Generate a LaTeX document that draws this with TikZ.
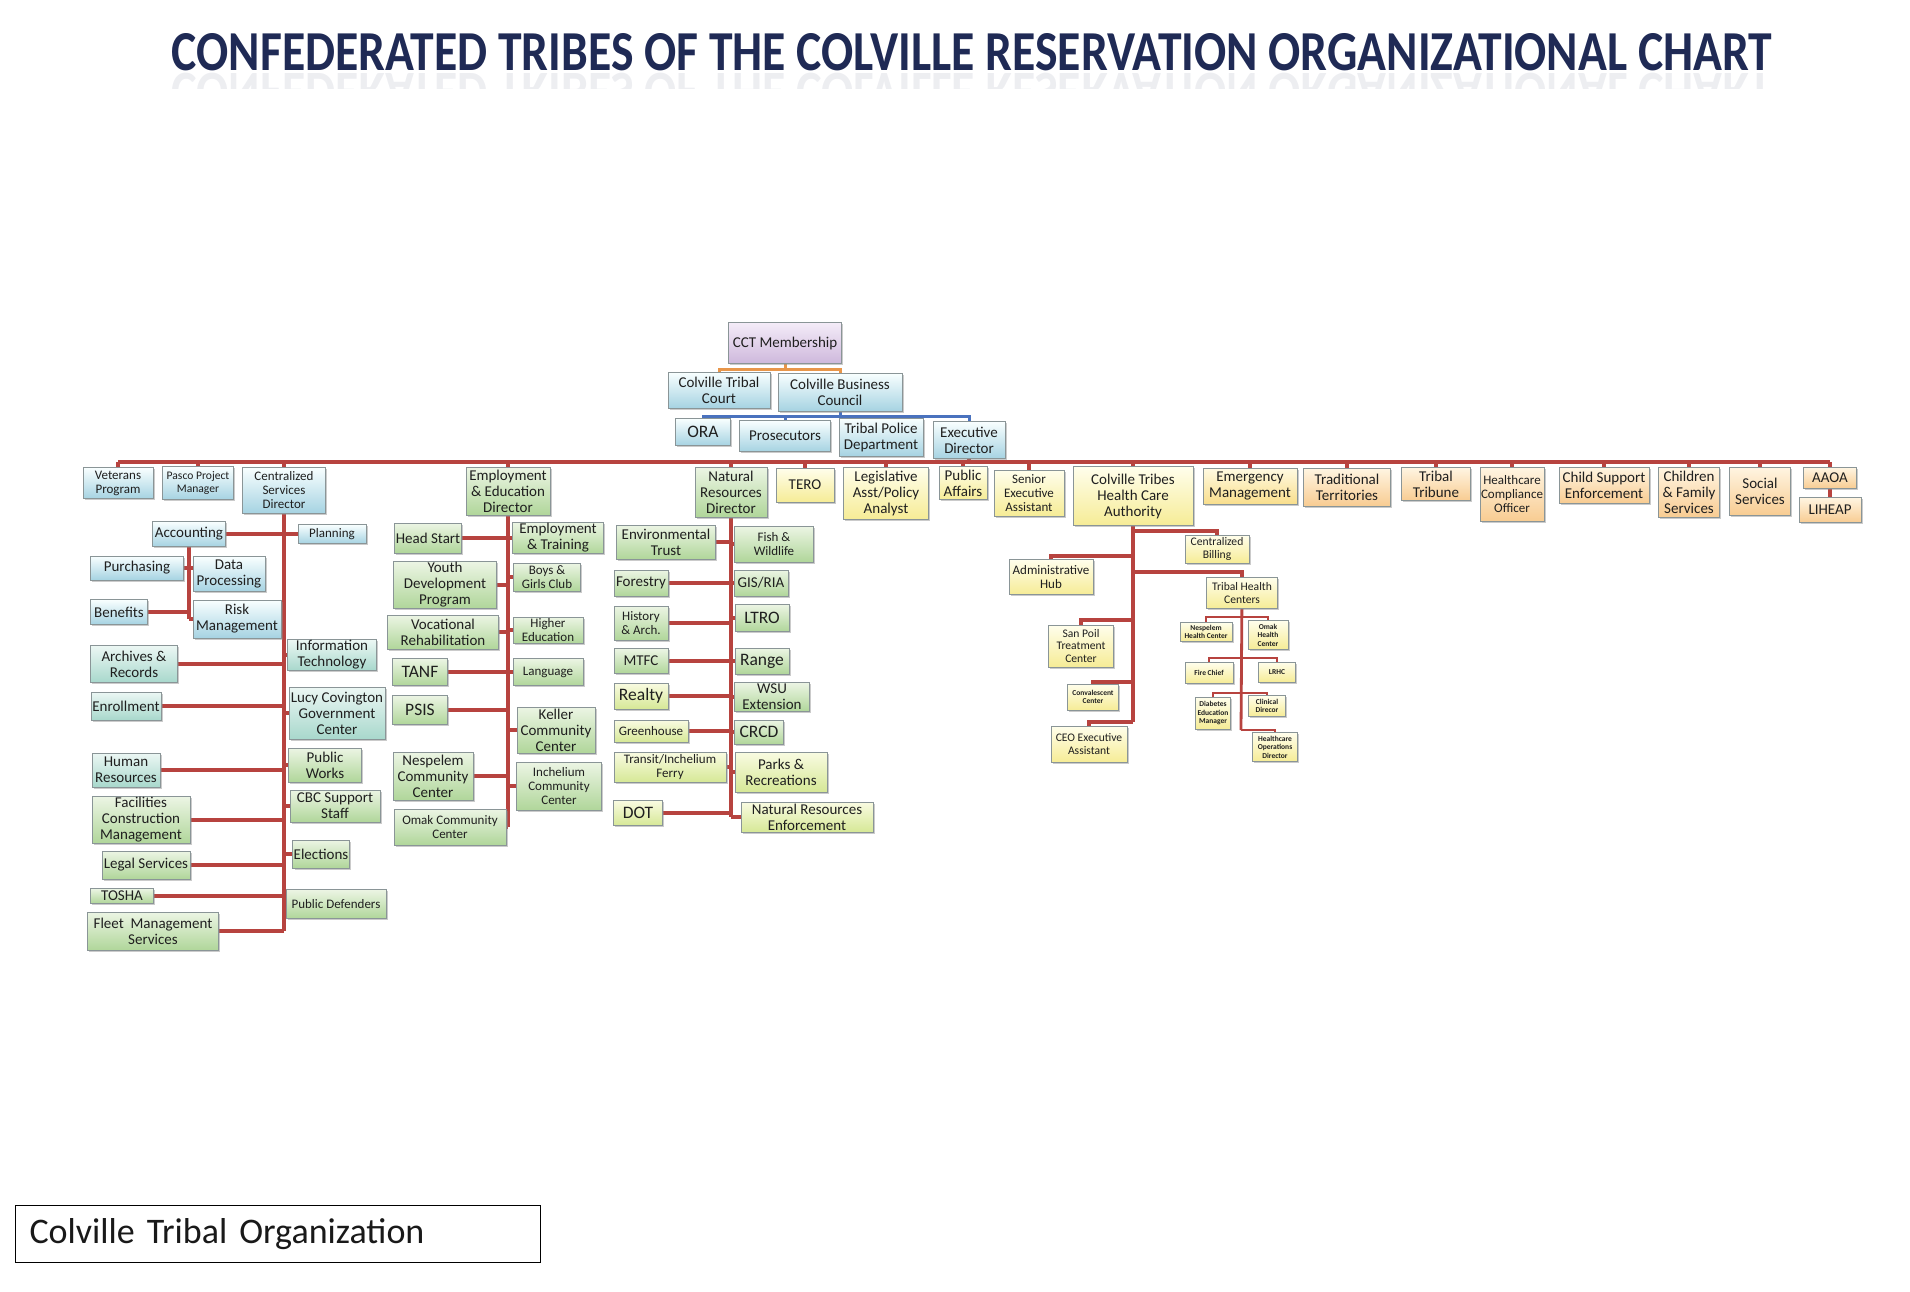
\documentclass[tikz,border=0pt]{standalone}
\usepackage{fontspec}
\usepackage{graphicx}
\setmainfont{Carlito}
\usetikzlibrary{shadows,backgrounds}
\definecolor{titleNavy}{HTML}{1F2A55}
\definecolor{redline}{HTML}{B7433F}
\definecolor{blueline}{HTML}{4A72BE}
\definecolor{orangeline}{HTML}{E8964A}
\definecolor{boxgray}{HTML}{8A9597}
\begin{document}
\begin{tikzpicture}[x=1pt,y=-1pt,
  bx/.style={draw=boxgray, line width=0.8pt, align=center, inner sep=1pt, text=black!88,
     drop shadow={shadow xshift=1.8pt, shadow yshift=-1.8pt, fill=black!45, opacity=0.45}},
  wh/.style 2 args={minimum width=#1pt, minimum height=#2pt},
  cBlue/.style={bx, top color=white!70!cyan!8, bottom color={rgb,255:red,166;green,211;blue,226}},
  cTeal/.style={bx, top color={rgb,255:red,236;green,247;blue,244}, bottom color={rgb,255:red,168;green,216;blue,204}},
  cGreen/.style={bx, top color={rgb,255:red,236;green,245;blue,228}, bottom color={rgb,255:red,176;green,214;blue,154}},
  cYG/.style={bx, top color={rgb,255:red,249;green,251;blue,226}, bottom color={rgb,255:red,214;green,232;blue,150}},
  cYel/.style={bx, top color={rgb,255:red,255;green,254;blue,236}, bottom color={rgb,255:red,246;green,236;blue,150}},
  cYO/.style={bx, top color={rgb,255:red,255;green,250;blue,226}, bottom color={rgb,255:red,249;green,222;blue,140}},
  cOr/.style={bx, top color={rgb,255:red,255;green,245;blue,226}, bottom color={rgb,255:red,248;green,204;blue,146}},
  cPur/.style={bx, top color={rgb,255:red,244;green,236;blue,248}, bottom color={rgb,255:red,206;green,184;blue,220}},
  fa/.style={font=\fontsize{15}{16}\selectfont},
  fb/.style={font=\fontsize{13}{14}\selectfont},
  fc/.style={font=\fontsize{11.6}{12.6}\selectfont},
  fd/.style={font=\fontsize{7.5}{8.4}\selectfont\bfseries},
  fe/.style={font=\fontsize{17.5}{18.5}\selectfont},
  lnR/.style={draw=redline, line width=3.4pt},
  lnS/.style={draw=redline, line width=2.8pt},
  lnB/.style={draw=blueline, line width=3pt},
  lnO/.style={draw=orangeline, line width=3pt}
]
\useasboundingbox (0,0) rectangle (1910,1292);

% Title
\node[anchor=base, inner sep=0, text=titleNavy] (title) at (972,71)
  {\resizebox{1600pt}{37pt}{\bfseries CONFEDERATED TRIBES OF THE COLVILLE RESERVATION ORGANIZATIONAL CHART}};
\begin{scope}
  \clip (150,73) rectangle (1800,89);
  \node[anchor=north, inner sep=0, text=titleNavy, opacity=0.08] (titlerefl) at (972,73)
    {\scalebox{1}[-1]{\resizebox{1600pt}{37pt}{\bfseries CONFEDERATED TRIBES OF THE COLVILLE RESERVATION ORGANIZATIONAL CHART}}};
\end{scope}

% Top
\node[cPur, fa, wh={113}{41}] (cct) at (785,343) {CCT Membership};
\node[cBlue, fa, wh={102}{36}] (ctc) at (719,390) {Colville Tribal\\Court};
\node[cBlue, fa, wh={124}{38}] (cbc) at (840,392) {Colville Business\\Council};
\node[cBlue, fe, wh={55}{27}] (ora) at (703,432) {ORA};
\node[cBlue, fa, wh={91}{31}] (pros) at (785,436) {Prosecutors};
\node[cBlue, fa, wh={84}{38}] (tpd) at (881,437) {Tribal Police\\Department};
\node[cBlue, fa, wh={72}{37}] (exec) at (969,440) {Executive\\Director};

% Row under the bus
\node[cBlue, fb, wh={70}{31}] (vet) at (118,483) {Veterans\\Program};
\node[cBlue, fc, wh={71}{33}] (pasco) at (198,483) {Pasco Project\\Manager};
\node[cBlue, fb, wh={83}{46}] (csd) at (284,490) {Centralized\\Services\\Director};
\node[cGreen, fa, wh={84}{48}] (eed) at (508,491) {Employment\\\& Education\\Director};
\node[cGreen, fa, wh={72}{50}] (nrd) at (731,492) {Natural\\Resources\\Director};
\node[cYel, fa, wh={58}{34}] (tero) at (805,485) {TERO};
\node[cYel, fa, wh={85}{52}] (leg) at (886,493) {Legislative\\Asst/Policy\\Analyst};
\node[cYel, fa, wh={48}{33}] (pa) at (963,483) {Public\\Affairs};
\node[cYel, fb, wh={70}{46}] (sea) at (1029,493) {Senior\\Executive\\Assistant};
\node[cYel, fa, wh={120}{59}] (cthca) at (1133,496) {Colville Tribes\\Health Care\\Authority};
\node[cYO, fa, wh={94}{36}] (em) at (1250,486) {Emergency\\Management};
\node[cOr, fa, wh={87}{38}] (tt) at (1347,487) {Traditional\\Territories};
\node[cOr, fa, wh={69}{33}] (trib) at (1436,484) {Tribal\\Tribune};
\node[cOr, fb, wh={64}{54}] (hco) at (1512,494) {Healthcare\\Compliance\\Officer};
\node[cOr, fa, wh={90}{36}] (cse) at (1604,485) {Child Support\\Enforcement};
\node[cOr, fa, wh={61}{50}] (cfs) at (1689,492) {Children\\\& Family\\Services};
\node[cOr, fa, wh={61}{48}] (ss) at (1760,491) {Social\\Services};
\node[cOr, fa, wh={53}{21}] (aaoa) at (1830,478) {AAOA};
\node[cOr, fa, wh={62}{25}] (liheap) at (1830,510) {LIHEAP};

% Centralized services subtree
\node[cBlue, fa, wh={73}{25}] (acct) at (189,534) {Accounting};
\node[cBlue, fb, wh={68}{19}] (plan) at (332,534) {Planning};
\node[cBlue, fa, wh={93}{24}] (purch) at (137,568) {Purchasing};
\node[cBlue, fa, wh={72}{35}] (dp) at (229,574) {Data\\Processing};
\node[cBlue, fa, wh={57}{25}] (ben) at (119,612) {Benefits};
\node[cBlue, fa, wh={88}{38}] (risk) at (237,619) {Risk\\Management};
\node[cTeal, fa, wh={87}{37}] (arch) at (134,664) {Archives \&\\Records};
\node[cTeal, fa, wh={89}{30}] (it) at (332,655) {Information\\Technology};
\node[cTeal, fa, wh={70}{28}] (enr) at (126,706) {Enrollment};
\node[cTeal, fa, wh={96}{52}] (lucy) at (337,713) {Lucy Covington\\Government\\Center};
\node[cTeal, fa, wh={68}{34}] (hr) at (126,770) {Human\\Resources};
\node[cGreen, fa, wh={73}{34}] (pw) at (325,765) {Public\\Works};
\node[cGreen, fa, wh={98}{46}] (fac) at (141,820) {Facilities\\Construction\\Management};
\node[cGreen, fa, wh={90}{32}] (cbcs) at (335,806) {CBC Support\\Staff};
\node[cGreen, fa, wh={88}{28}] (legal) at (146,865) {Legal Services};
\node[cGreen, fa, wh={56}{28}] (elec) at (321,854) {Elections};
\node[cGreen, fa, wh={63}{15}, inner sep=0pt] (tosha) at (122,896) {TOSHA};
\node[cGreen, fb, wh={100}{29}] (pd) at (336,904) {Public Defenders};
\node[cGreen, fa, wh={131}{38}] (fleet) at (153,931) {Fleet\ \ Management\\Services};

% Employment & Education subtree
\node[cGreen, fa, wh={67}{30}] (hs) at (428,538) {Head Start};
\node[cGreen, fa, wh={91}{30}] (et) at (558,538) {Employment\\\& Training};
\node[cGreen, fa, wh={103}{44}] (ydp) at (445,585) {Youth\\Development\\Program};
\node[cGreen, fb, wh={67}{28}] (bgc) at (547,577) {Boys \&\\Girls Club};
\node[cGreen, fa, wh={111}{34}] (vr) at (443,632) {Vocational\\Rehabilitation};
\node[cGreen, fb, wh={70}{26}] (he) at (548,630) {Higher\\Education};
\node[cGreen, fe, wh={55}{27}] (tanf) at (420,672) {TANF};
\node[cGreen, fb, wh={70}{27}] (lang) at (548,672) {Language};
\node[cGreen, fe, wh={55}{29}] (psis) at (420,710) {PSIS};
\node[cGreen, fa, wh={78}{46}] (kcc) at (556,730) {Keller\\Community\\Center};
\node[cGreen, fa, wh={80}{48}] (ncc) at (433,776) {Nespelem\\Community\\Center};
\node[cGreen, fb, wh={85}{48}] (icc) at (559,786) {Inchelium\\Community\\Center};
\node[cGreen, fb, wh={112}{36}] (occ) at (450,827) {Omak Community\\Center};

% Natural Resources subtree
\node[cGreen, fa, wh={99}{34}] (env) at (666,542) {Environmental\\Trust};
\node[cGreen, fb, wh={79}{36}] (fw) at (774,544) {Fish \&\\Wildlife};
\node[cGreen, fa, wh={54}{26}] (for) at (641,583) {Forestry};
\node[cGreen, fa, wh={54}{26}] (gis) at (761,583) {GIS/RIA};
\node[cGreen, fb, wh={54}{34}] (hist) at (641,623) {History\\\& Arch.};
\node[cGreen, fe, wh={54}{27}] (ltro) at (762,618) {LTRO};
\node[cGreen, fa, wh={54}{25}] (mtfc) at (641,661) {MTFC};
\node[cGreen, fe, wh={54}{26}] (range) at (762,661) {Range};
\node[cYG, fe, wh={54}{26}] (realty) at (641,696) {Realty};
\node[cGreen, fa, wh={75}{29}] (wsu) at (772,697) {WSU\\Extension};
\node[cYG, fb, wh={74}{22}] (gh) at (651,731) {Greenhouse};
\node[cGreen, fe, wh={49}{24}] (crcd) at (759,732) {CRCD};
\node[cYG, fb, wh={112}{30}] (tif) at (670,767) {Transit/Inchelium\\Ferry};
\node[cYG, fa, wh={92}{40}] (pr) at (781,772) {Parks \&\\Recreations};
\node[cYG, fe, wh={49}{25}] (dot) at (638,813) {DOT};
\node[cYG, fa, wh={132}{30}] (nre) at (807,817) {Natural Resources\\Enforcement};

% Health Care Authority subtree
\node[cYel, fc, wh={64}{28}] (cb) at (1217,549) {Centralized\\Billing};
\node[cYel, fb, wh={84}{35}] (ah) at (1051,577) {Administrative\\Hub};
\node[cYel, fc, wh={71}{31}] (thc) at (1242,593) {Tribal Health\\Centers};
\node[cYel, fd, wh={52}{19}] (nhc) at (1206,632) {Nespelem\\Health Center};
\node[cYel, fd, wh={40}{29}] (ohc) at (1268,635) {Omak\\Health\\Center};
\node[cYel, fd, wh={48}{21}] (fire) at (1209,673) {Fire Chief};
\node[cYel, fd, wh={37}{20}] (lrhc) at (1277,672) {LRHC};
\node[cYel, fd, wh={35}{32}] (dem) at (1213,713) {Diabetes\\Education\\Manager};
\node[cYel, fd, wh={37}{21}] (clin) at (1267,706) {Clinical\\Direcor};
\node[cYel, fd, wh={45}{29}] (hod) at (1275,747) {Healthcare\\Operations\\Director};
\node[cYel, fc, wh={65}{42}] (spt) at (1081,646) {San Poil\\Treatment\\Center};
\node[cYel, fd, wh={51}{26}] (conv) at (1093,697) {Convalescent\\Center};
\node[cYel, fc, wh={76}{36}] (ceo) at (1089,744) {CEO Executive\\Assistant};

% Caption
\node[draw=black, line width=1pt, anchor=north west, text width=497pt, inner xsep=14pt, inner ysep=0pt,
      minimum height=57pt, align=left, font=\fontsize{36}{40}\selectfont, text=black!90] (caption) at (15,1205)
      {Colville Tribal Organization};

% Connectors
\coordinate (o1) at (785,369);
\coordinate (b1) at (840,416);
\coordinate (bus) at (0,462);
\coordinate (hCB) at (1133,531);
\coordinate (hAH) at (1133,556);
\coordinate (hTHC) at (1133,572);
\coordinate (hSP) at (1133,620);
\coordinate (hCV) at (1133,682);
\coordinate (hCEO) at (1133,722);
\coordinate (t1) at (1241,617);
\coordinate (t2) at (1241,658);
\coordinate (t3) at (1241,693);
\coordinate (tEnd) at (1241,730);

\begin{scope}[on background layer]
  \fill[white] (0,0) rectangle (1910,1292);
  \draw[lnO] (cct.center) -- (o1);
  \draw[lnO] (ctc.center) |- (o1);
  \draw[lnO] (cbc.center) |- (o1);
  \draw[lnB] (cbc.center) -- (b1);
  \foreach \n in {ora,pros,tpd,exec} \draw[lnB] (\n.center) |- (b1);
  \draw[lnR] (vet.center |- bus) -- (aaoa.center |- bus);
  \foreach \n in {vet,pasco,csd,eed,nrd,tero,leg,pa,sea,cthca,em,tt,trib,hco,cse,cfs,ss,aaoa,exec}
    \draw[lnR] (\n.center) -- (\n.center |- bus);
  \draw[lnR] (aaoa.center) -- (liheap.center);
  % centralized services
  \draw[lnR] (csd.center) -- (csd.center |- fleet.center);
  \foreach \n in {acct,plan,arch,it,enr,lucy,hr,pw,fac,cbcs,legal,elec,tosha,pd,fleet}
    \draw[lnR] (\n.center) -- (\n.center -| csd.center);
  \draw[lnR] (acct.center) -- (acct.center |- risk.center);
  \draw[lnR] (purch.center) -- (dp.center |- purch.center);
  \draw[lnR] (ben.center) -- (ben.center -| acct.center);
  \draw[lnR] (risk.center) -- (risk.center -| acct.center);
  % employment & education
  \draw[lnR] (eed.center) -- (eed.center |- occ.center);
  \foreach \n in {hs,et,ydp,bgc,vr,he,tanf,lang,psis,kcc,ncc,icc,occ}
    \draw[lnR] (\n.center) -- (\n.center -| eed.center);
  % natural resources
  \draw[lnR] (nrd.center) -- (nrd.center |- nre.center);
  \foreach \n in {env,fw,for,gis,hist,ltro,mtfc,range,realty,wsu,gh,crcd,tif,pr,dot,nre}
    \draw[lnR] (\n.center) -- (\n.center -| nrd.center);
  % health care authority
  \draw[lnR] (cthca.center) -- (hCEO);
  \draw[lnR] (cb.center) |- (hCB);
  \draw[lnR] (ah.center) |- (hAH);
  \draw[lnR] (thc.center) |- (hTHC);
  \draw[lnR] (spt.center) |- (hSP);
  \draw[lnR] (conv.center) |- (hCV);
  \draw[lnR] (ceo.center) |- (hCEO);
  \draw[lnS] (thc.center) -- (tEnd);
  \draw[lnS] (nhc.center) |- (t1);
  \draw[lnS] (ohc.center) |- (t1);
  \draw[lnS] (fire.center) |- (t2);
  \draw[lnS] (lrhc.center) |- (t2);
  \draw[lnS] (dem.center) |- (t3);
  \draw[lnS] (clin.center) |- (t3);
  \draw[lnS] (hod.center) |- (tEnd);
\end{scope}
\end{tikzpicture}
\end{document}
